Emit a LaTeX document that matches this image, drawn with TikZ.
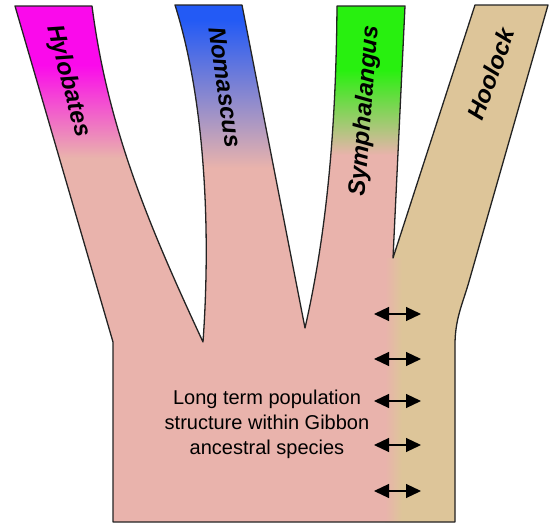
\documentclass[tikz,border=0pt]{standalone}
\usepackage{fontspec}
\setmainfont{Liberation Sans}
\usetikzlibrary{arrows.meta}
\definecolor{pinkb}{RGB}{233,179,172}
\definecolor{hooltan}{RGB}{221,197,153}
\definecolor{magb}{RGB}{250,10,235}
\definecolor{blueb}{RGB}{35,90,245}
\definecolor{purpb}{RGB}{160,135,205}
\definecolor{greenb}{RGB}{40,240,15}
\definecolor{ygreen}{RGB}{170,195,110}
\definecolor{outl}{RGB}{35,35,35}
\tikzset{
  outline/.style={draw=outl, line width=1.3pt, line join=round},
  genus/.style={font=\fontsize{24}{28}\selectfont\bfseries\itshape, inner sep=0pt},
  bodytext/.style={font=\fontsize{20}{25}\selectfont, align=center, inner sep=0pt},
  flow/.style={{Triangle[length=15pt,width=14pt]}-{Triangle[length=15pt,width=14pt]}, line width=1.2pt, black}
}
\def\gibbonoutline{(15,6) -- (92,6) .. controls (108,130) and (150,228) .. (203,342)
  .. controls (211,230) and (205,100) .. (175,5)
  -- (242,5) -- (305,328)
  .. controls (325,240) and (336,140) .. (337,6)
  -- (405,6) -- (393,258) -- (475,5) -- (548,5) -- (468,285)
  .. controls (462,305) and (455,320) .. (455,345)
  -- (455,522) -- (113,522) -- (113,342) -- cycle}
\begin{document}
\begin{tikzpicture}[x=1pt,y=-1pt]
\useasboundingbox (0,0) rectangle (550,525);
\begin{scope}
  \clip \gibbonoutline;
  \fill[pinkb] (0,0) rectangle (550,525);
  % Hoolock tan region
  \fill[hooltan] (405,0) -- (560,0) -- (560,530) -- (402,530) -- (402,258) -- (393,258) -- cycle;
  \shade[left color=pinkb, right color=hooltan] (385,258) rectangle (402,530);
  % Hylobates
  \fill[magb] (0,0) rectangle (150,65);
  \shade[top color=magb, middle color=magb!55!pinkb, bottom color=pinkb] (0,65) rectangle (150,158);
  % Nomascus
  \fill[blueb] (160,0) rectangle (290,20);
  \shade[top color=blueb, middle color=purpb, bottom color=pinkb] (160,20) rectangle (290,168);
  % Symphalangus
  \fill[greenb] (320,0) rectangle (420,70);
  \shade[top color=greenb, middle color=ygreen, bottom color=pinkb] (320,70) rectangle (420,155);
\end{scope}
\draw[outline] \gibbonoutline;

\node[genus, rotate=-75] (hylo) at (68,81) {Hylobates};
\node[genus, rotate=-82] (noma) at (225,87) {Nomascus};
\node[genus, rotate=85.5] (symph) at (365,111) {Symphalangus};
\node[genus, rotate=70] (hool) at (491,74) {Hoolock};

\node[bodytext] (txt) at (267,424) {Long term population\\structure within Gibbon\\ancestral species};

\foreach \i/\yy in {1/314,2/359,3/401,4/445,5/491}{
  \coordinate (aL\i) at (374,\yy);
  \coordinate (aR\i) at (421,\yy);
  \draw[flow] (aL\i) -- (aR\i);
}
\end{tikzpicture}
\end{document}
